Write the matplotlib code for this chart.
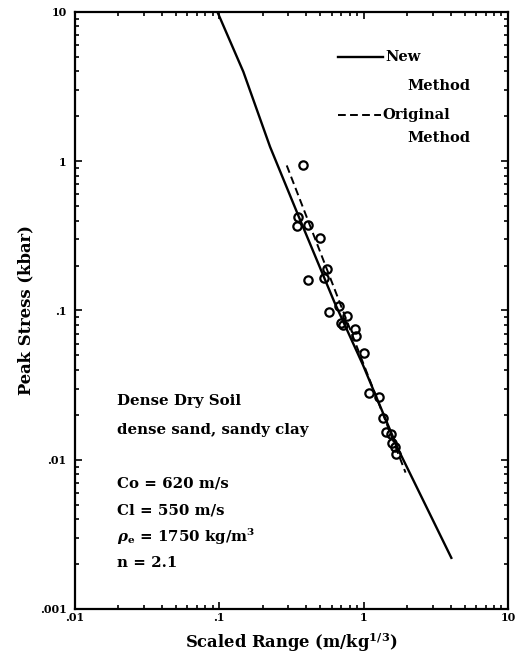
import matplotlib.pyplot as plt
from matplotlib.lines import Line2D
from matplotlib.ticker import LogLocator, NullFormatter

plt.rcParams['font.family'] = 'DejaVu Serif'
plt.rcParams['font.weight'] = 'bold'
plt.rcParams['axes.labelweight'] = 'bold'
plt.rcParams['mathtext.fontset'] = 'dejavuserif'

# New method curve
new_x = [0.097, 0.1466, 0.2245, 0.358, 0.626, 0.99, 1.22, 1.73, 4.05]
new_y = [10, 3.98, 1.25, 0.417, 0.114, 0.043, 0.0265, 0.0118, 0.0022]

# Original method curve
orig_x = [0.293, 1.95]
orig_y = [0.937, 0.0082]

# Measured peak stresses
data_x = [0.378, 0.349, 0.345, 0.41, 0.499, 0.414, 0.555, 0.535, 0.573, 0.671,
          0.698, 0.764, 0.716, 0.877, 0.887, 1.013, 1.085, 1.27, 1.37, 1.43,
          1.55, 1.58, 1.64, 1.68]
data_y = [0.95, 0.42, 0.371, 0.373, 0.305, 0.16, 0.191, 0.166, 0.098, 0.107,
          0.083, 0.0925, 0.0796, 0.0757, 0.0678, 0.0516, 0.0282, 0.0265, 0.0191, 0.0153,
          0.0148, 0.013, 0.0122, 0.0109]

xticks = [0.01, 0.1, 1, 10]
xtick_labels = ['.01', '.1', '1', '10']
yticks = [0.001, 0.01, 0.1, 1, 10]
ytick_labels = ['.001', '.01', '.1', '1', '10']

notes = ['Dense Dry Soil', 'dense sand, sandy clay', 'Co = 620 m/s', 'Cl = 550 m/s',
         r'$\rho_{\mathbf{e}}$ = 1750 kg/m$^{\mathbf{3}}$', 'n = 2.1']
notes_y = [0.349, 0.299, 0.211, 0.165, 0.12, 0.077]

fig = plt.figure(figsize=(5.22, 6.62), dpi=100)
ax = fig.add_axes([0.1437, 0.0801, 0.8295, 0.9018])
ax.set_xscale('log')
ax.set_yscale('log')
ax.set_xlim(0.01, 10)
ax.set_ylim(0.001, 10)

dash = (0, (4, 2.2))
ax.plot(new_x, new_y, color='k', lw=1.7)
ax.plot(orig_x, orig_y, color='k', lw=1.4, ls=dash)
ax.plot(data_x, data_y, 'o', mfc='none', mec='k', ms=6, mew=1.6)

# ticks
ax.set_xticks(xticks)
ax.set_xticklabels(xtick_labels)
ax.set_yticks(yticks)
ax.set_yticklabels(ytick_labels)
for axis in (ax.xaxis, ax.yaxis):
    axis.set_minor_locator(LogLocator(base=10, subs=range(2, 10)))
    axis.set_minor_formatter(NullFormatter())
ax.tick_params(which='both', direction='in', top=True, right=True, width=1.2, labelsize=8)
ax.tick_params(which='major', length=5)
ax.tick_params(which='minor', length=3)
ax.tick_params(axis='x', pad=2)
ax.tick_params(axis='y', pad=6)
for s in ax.spines.values():
    s.set_linewidth(1.6)

ax.set_xlabel(r'Scaled Range (m/kg$^{\mathbf{1/3}}$)', fontsize=11.8, fontweight='bold')
ax.set_ylabel('Peak Stress (kbar)', fontsize=11.8, fontweight='bold')
ax.xaxis.set_label_coords(0.5, -0.037)
ax.yaxis.set_label_coords(-0.095, 0.5)

# legend drawn by hand
ax.add_line(Line2D([0.608, 0.712], [0.925, 0.925], transform=ax.transAxes, color='k', lw=1.7))
ax.text(0.716, 0.925, 'New', transform=ax.transAxes, va='center', fontsize=10.5)
ax.text(0.767, 0.876, 'Method', transform=ax.transAxes, va='center', fontsize=10.5)
ax.add_line(Line2D([0.608, 0.706], [0.8275, 0.8275], transform=ax.transAxes, color='k',
                   lw=1.4, ls=dash))
ax.text(0.711, 0.8275, 'Original', transform=ax.transAxes, va='center', fontsize=10.5)
ax.text(0.767, 0.789, 'Method', transform=ax.transAxes, va='center', fontsize=10.5)

for t, y in zip(notes, notes_y):
    ax.text(0.098, y, t, transform=ax.transAxes, va='center', fontsize=10.8)

fig.savefig('out.png', dpi=100)
